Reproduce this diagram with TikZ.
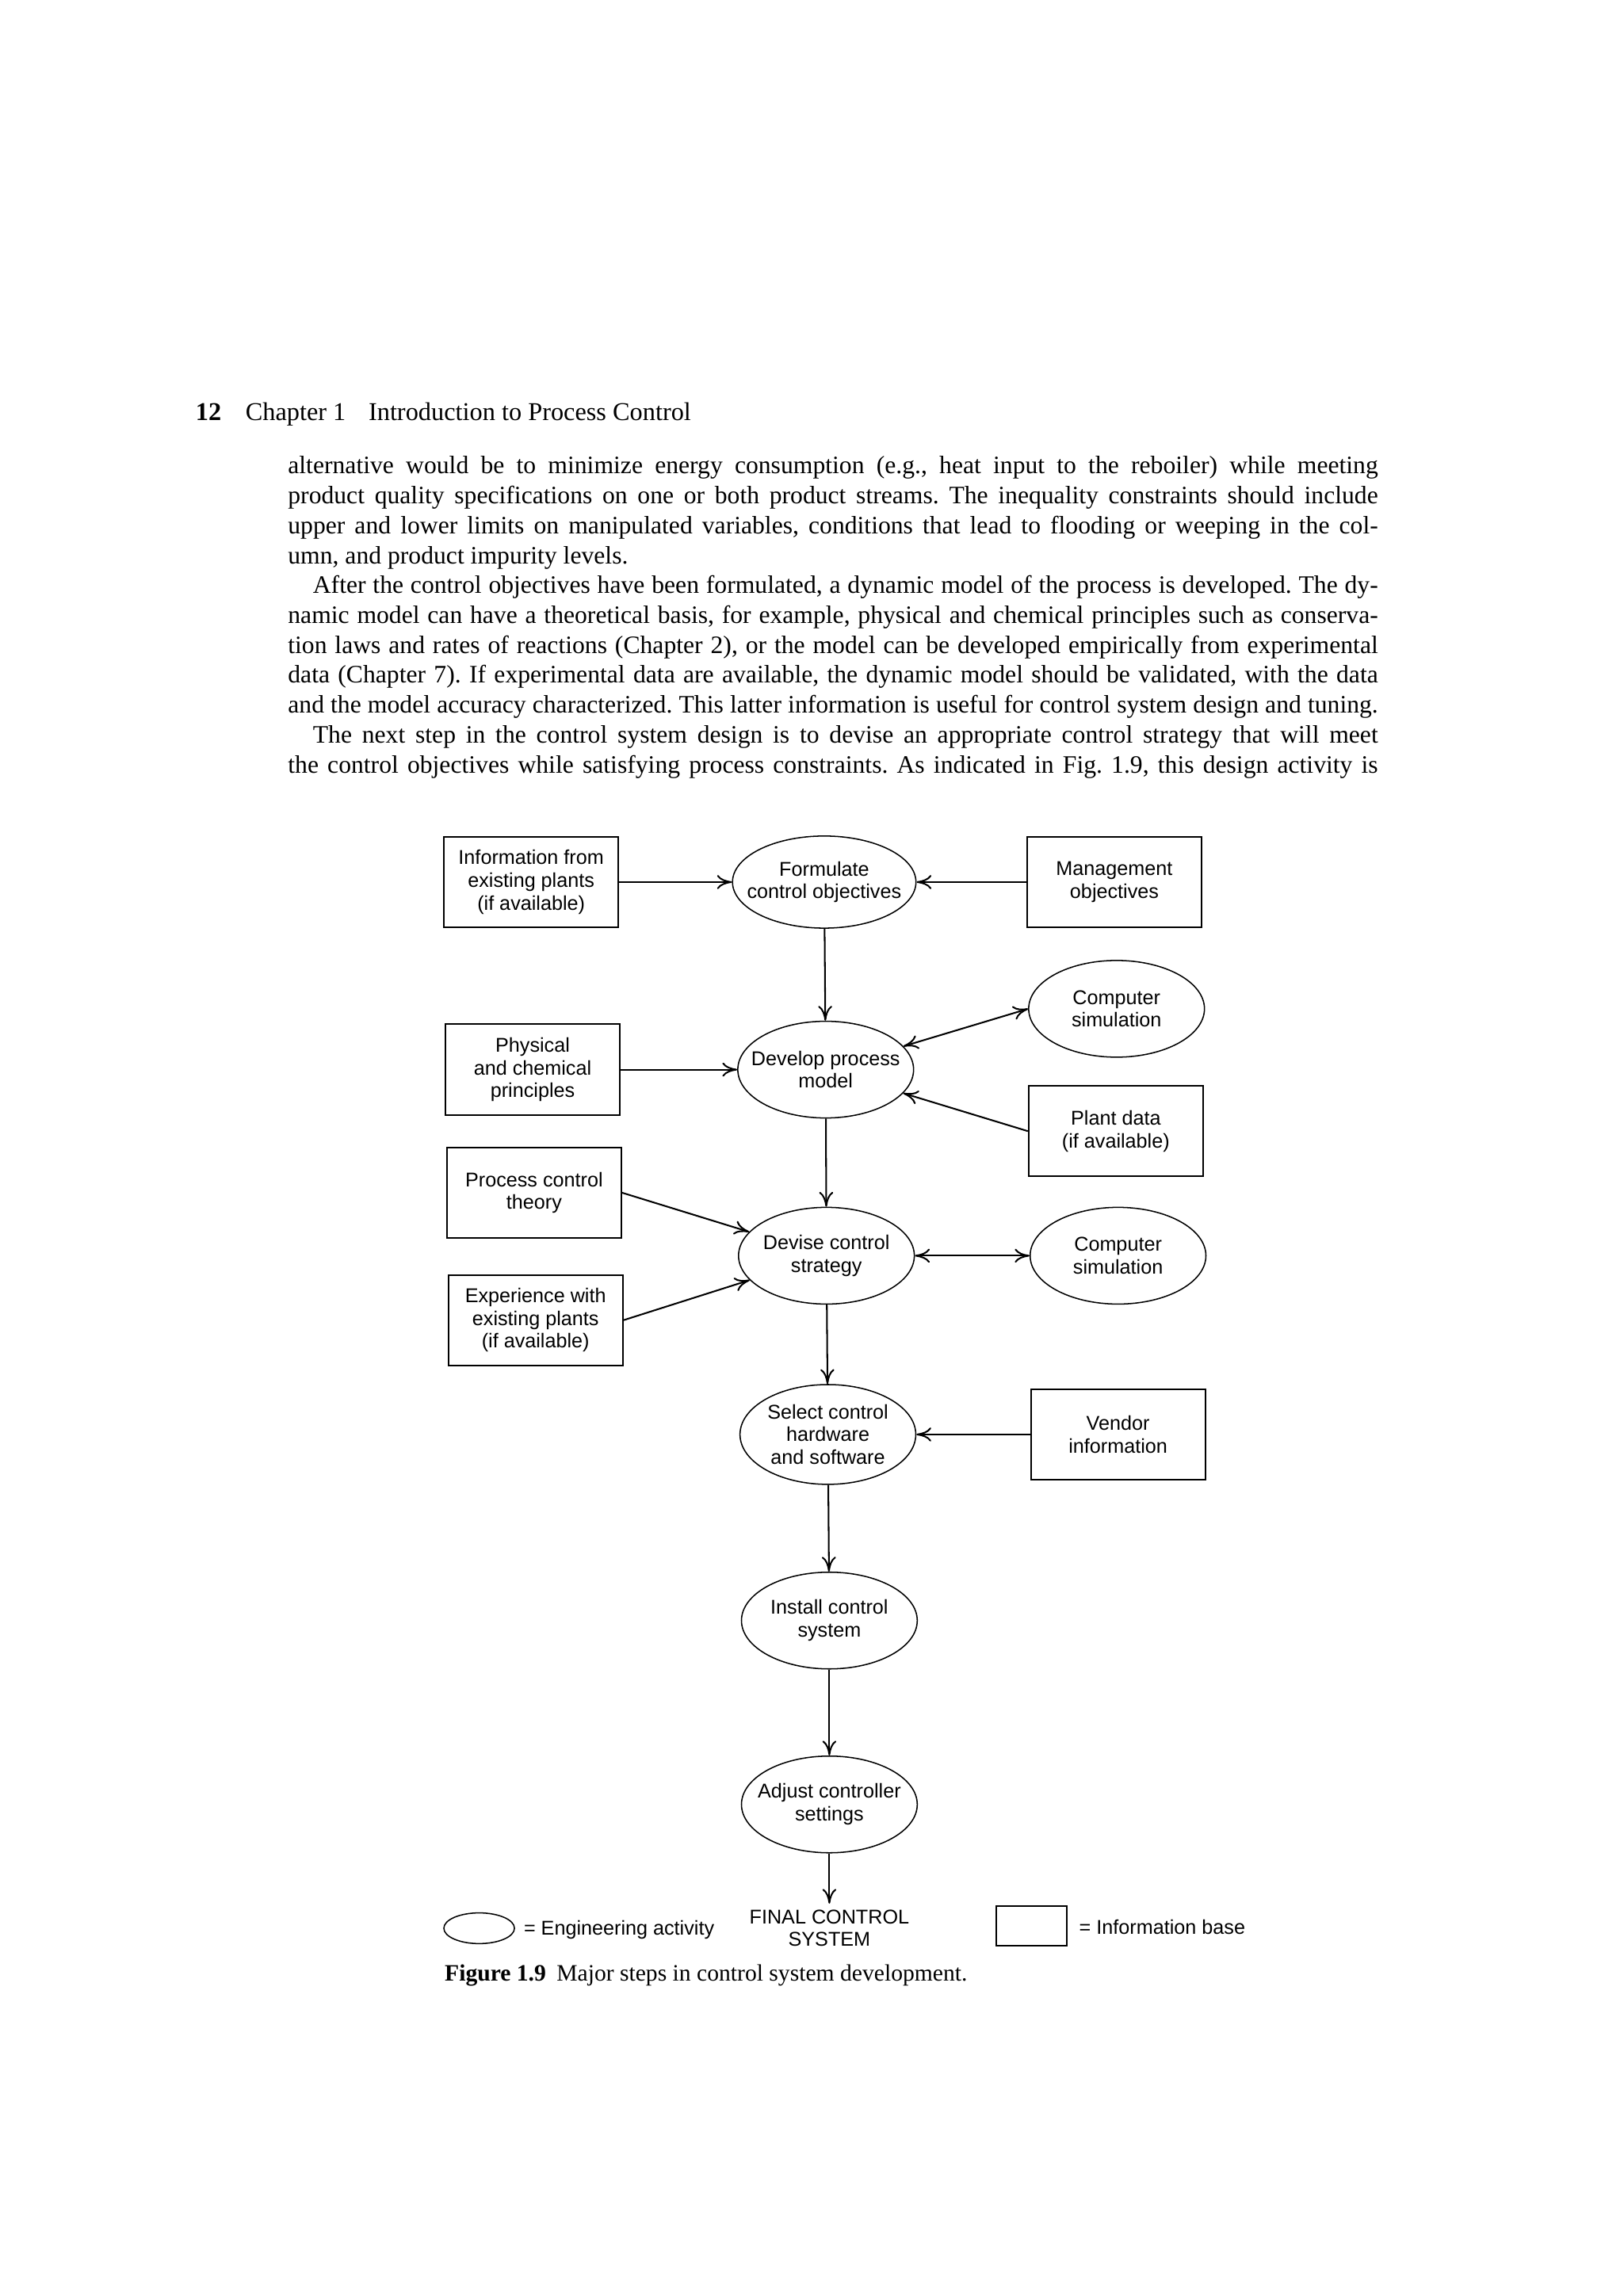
\documentclass[tikz,border=0pt]{standalone}
\usepackage{fontspec}
\setmainfont{Liberation Serif}
\newfontfamily\diafont{Liberation Sans}
\usetikzlibrary{shapes.geometric,arrows.meta}

\tikzset{
  diatext/.style={font=\diafont\fontsize{7.4}{8.4}\selectfont},
  infobox/.style={draw, rectangle, diatext, align=center,
    minimum width=2.27cm, minimum height=1.18cm, inner sep=1pt},
  activity/.style={draw, ellipse, line width=0.45pt,
    minimum width=2.29cm, minimum height=1.26cm, inner sep=0pt,
    label={[diatext, align=center]center:{#1}}},
}

\begin{document}
\frenchspacing
\begin{tikzpicture}[x=0.019091cm, y=-0.019091cm, line width=0.6pt,
                    >={To[length=5.5pt,width=5.2pt]}]
        \fill[white] (0,0) rectangle (1108,1567);
        \useasboundingbox (0,0) rectangle (1108,1567);

        % page head
        \node[anchor=base west, inner sep=0, font=\fontsize{9.5}{11}\selectfont\bfseries] (pgno) at (133,287) {12};
        \node[anchor=base west, inner sep=0, font=\fontsize{9.5}{11}\selectfont] (chap) at (167,287) {Chapter 1};
        \node[anchor=base west, inner sep=0, font=\fontsize{9.5}{11}\selectfont] (title) at (251,287) {Introduction to Process Control};

        % running text
        \node[anchor=north west, inner sep=0, text width=14.2cm, align=justify,
              font=\fontsize{9.3}{11.08}\selectfont] (body) at (196,311) {%
alternative would be to minimize energy consumption (e.g., heat input to the reboiler) while meeting\linebreak
product quality specifications on one or both product streams. The inequality constraints should include\linebreak
upper and lower limits on manipulated variables, conditions that lead to flooding or weeping in the col-\linebreak
umn, and product impurity levels.\par
{\parfillskip=0pt\hspace*{0.325cm}After the control objectives have been formulated, a dynamic model of the process is developed. The dy-\linebreak
namic model can have a theoretical basis, for example, physical and chemical principles such as conserva-\linebreak
tion laws and rates of reactions (Chapter 2), or the model can be developed empirically from experimental\linebreak
data (Chapter 7). If experimental data are available, the dynamic model should be validated, with the data\linebreak
and the model accuracy characterized. This latter information is useful for control system design and tuning.\par}
{\parfillskip=0pt\hspace*{0.325cm}The next step in the control system design is to devise an appropriate control strategy that will meet\linebreak
the control objectives while satisfying process constraints. As indicated in Fig. 1.9, this design activity is\par}};

        % activities
        \node[activity={Formulate\\control objectives}, minimum width=2.39cm, minimum height=1.2cm] (formulate) at (562.5,602) {};
        \node[activity={Develop process\\model}] (develop) at (563.5,730) {};
        \node[activity={Devise control\\strategy}] (devise) at (564,857) {};
        \node[activity={Select control\\hardware\\and software}, minimum height=1.3cm] (select) at (565,979) {};
        \node[activity={Install control\\system}] (install) at (566,1106) {};
        \node[activity={Adjust controller\\settings}] (adjust) at (566,1231.5) {};
        \node[diatext, align=center, inner sep=2pt] (final) at (566,1316) {FINAL CONTROL\\SYSTEM};

        \node[activity={Computer\\simulation}] (simA) at (762,688.5) {};
        \node[activity={Computer\\simulation}] (simB) at (763,857) {};

        % information bases
        \node[infobox] (infoplants) at (362.5,602) {Information from\\existing plants\\(if available)};
        \node[infobox] (mgmt) at (760.5,602) {Management\\objectives};
        \node[infobox] (physchem) at (363.5,730) {Physical\\and chemical\\principles};
        \node[infobox] (plantdata) at (761.5,772) {Plant data\\(if available)};
        \node[infobox] (pctheory) at (364.5,814) {Process control\\theory};
        \node[infobox] (experience) at (365.5,901) {Experience with\\existing plants\\(if available)};
        \node[infobox] (vendor) at (763,979) {Vendor\\information};

        % main sequence
        \draw[->] (formulate) -- (develop);
        \draw[->] (develop) -- (devise);
        \draw[->] (devise) -- (select);
        \draw[->] (select) -- (install);
        \draw[->] (install) -- (adjust);
        \draw[->] (adjust) -- (final);

        % inputs
        \draw[->] (infoplants) -- (formulate);
        \draw[->] (mgmt) -- (formulate);
        \draw[->] (physchem) -- (develop);
        \draw[<->] (develop) -- (simA.west);
        \draw[->] (plantdata.west) -- (develop);
        \draw[->] (pctheory.east) -- (devise);
        \draw[->] (experience.east) -- (devise);
        \draw[<->] (devise) -- (simB);
        \draw[->] (vendor) -- (select);

        % key
        \node[activity={}, minimum width=0.92cm, minimum height=0.4cm] (keyact) at (327,1316) {};
        \node[diatext, anchor=west, inner sep=0] (keyacttext) at (357,1317) {= Engineering activity};
        \node[infobox, minimum width=0.92cm, minimum height=0.52cm] (keyinfo) at (704,1314.5) {};
        \node[diatext, anchor=west, inner sep=0] (keyinfotext) at (736,1315) {= Information base};

        % caption
        \node[anchor=base west, inner sep=0, font=\fontsize{8.7}{10}\selectfont] (caption) at (303,1352)
             {\textbf{Figure 1.9}\hspace{0.45em}Major steps in control system development.};
\end{tikzpicture}
\end{document}
